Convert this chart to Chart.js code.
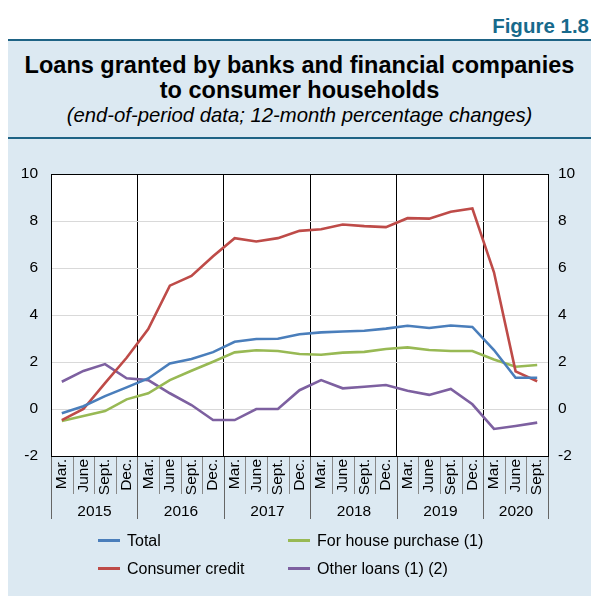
<!DOCTYPE html>
<html>
<head>
<meta charset="utf-8">
<script src="https://cdn.jsdelivr.net/npm/chart.js@4.4.1/dist/chart.umd.min.js"></script>
<style>
  html, body { margin:0; padding:0; background:#fff; }
  body { width:595px; height:596px; position:relative; overflow:hidden; font-family:"Liberation Sans", Arial, sans-serif; }
  #panel { position:absolute; left:8px; top:39px; width:583px; height:557px; background:#dce9f2; border-top:2px solid #1e6385; box-sizing:border-box; }
  #rule2 { position:absolute; left:8px; top:137px; width:583px; height:2px; background:#1e6385; }
  .txt { position:absolute; white-space:nowrap; line-height:1; }
  #fig { right:6px; top:15.6px; font-size:20.5px; font-weight:bold; color:#176a8c; }
  #title { left:8px; width:583px; top:52.7px; text-align:center; font-size:23.5px; font-weight:bold; line-height:25px; }
  #sub { left:8px; width:583px; top:104.5px; text-align:center; font-size:20.3px; font-style:italic; }
  #chart { position:absolute; left:0; top:0; }
  .leg-line { position:absolute; width:22px; height:3px; }
  .leg-txt { position:absolute; font-size:16px; line-height:1; white-space:nowrap; }
</style>
</head>
<body>
<div id="panel"></div>
<div id="rule2"></div>
<div class="txt" id="fig">Figure 1.8</div>
<div class="txt" id="title">Loans granted by banks and financial companies<br>to consumer households</div>
<div class="txt" id="sub">(end-of-period data; 12-month percentage changes)</div>
<canvas id="chart" width="595" height="596"></canvas>
<div id="legend"></div>

<script>
// quarters, 2015 Q1 .. 2020 Q3
const quarterLabels = ['Mar.','June','Sept.','Dec.', 'Mar.','June','Sept.','Dec.', 'Mar.','June','Sept.','Dec.',
                       'Mar.','June','Sept.','Dec.', 'Mar.','June','Sept.','Dec.', 'Mar.','June','Sept.'];
const yearLabels   = ['2015','2016','2017','2018','2019','2020'];
const yearQuarters = [4, 4, 4, 4, 4, 3];
const yTicks       = [-2, 0, 2, 4, 6, 8, 10];

const total          = [-0.18, 0.12, 0.55, 0.92, 1.30, 1.94, 2.13, 2.42, 2.86, 2.98, 2.99, 3.18,
                        3.26, 3.30, 3.33, 3.42, 3.54, 3.45, 3.55, 3.49, 2.51, 1.33, 1.33];
const consumerCredit = [-0.47, 0.00, 1.10, 2.18, 3.40, 5.25, 5.66, 6.50, 7.27, 7.13, 7.27, 7.58,
                        7.65, 7.85, 7.78, 7.74, 8.12, 8.10, 8.39, 8.53, 5.82, 1.60, 1.18];
const housePurchase  = [-0.51, -0.30, -0.09, 0.41, 0.67, 1.23, 1.63, 2.01, 2.41, 2.50, 2.47, 2.34,
                        2.31, 2.40, 2.43, 2.55, 2.62, 2.51, 2.47, 2.47, 2.11, 1.80, 1.87];
const otherLoans     = [1.16, 1.62, 1.91, 1.31, 1.23, 0.67, 0.17, -0.47, -0.47, 0.00, 0.00, 0.80,
                        1.23, 0.88, 0.95, 1.02, 0.78, 0.60, 0.85, 0.20, -0.85, -0.72, -0.58];

const series = [
  { name: 'Total',                 data: total,          color: '#4a7ebb' },
  { name: 'Consumer credit',       data: consumerCredit, color: '#be4b48' },
  { name: 'For house purchase (1)', data: housePurchase, color: '#98b954' },
  { name: 'Other loans (1) (2)',   data: otherLoans,     color: '#7d60a0' }
];

const FONT = '"Liberation Sans", Arial, sans-serif';

// ── plot frame, separators under the axis, year row ──────────
const framePlugin = {
  id: 'frame',
  beforeDraw(chart) {
    const a = chart.chartArea, c = chart.ctx;
    c.save();
    c.fillStyle = '#ffffff';
    c.fillRect(a.left, a.top, a.right - a.left, a.bottom - a.top);
    c.restore();
  },
  afterDraw(chart) {
    const a = chart.chartArea, c = chart.ctx, x = chart.scales.x;
    const step = x.getPixelForValue(1) - x.getPixelForValue(0);
    const edge = i => Math.round(x.getPixelForValue(i) - step / 2) + 0.5;

    const yearStarts = [0];
    yearQuarters.forEach(q => yearStarts.push(yearStarts[yearStarts.length - 1] + q));

    c.save();
    c.lineWidth = 1;
    for (let i = 0; i <= quarterLabels.length; i++) {
      const isYear = yearStarts.includes(i);
      c.strokeStyle = isYear ? '#666' : '#888';
      c.beginPath();
      c.moveTo(edge(i), a.bottom);
      c.lineTo(edge(i), a.bottom + (isYear ? 63 : 38));
      c.stroke();
    }

    c.fillStyle = '#000';
    c.font = '15.5px ' + FONT;
    c.textAlign = 'center';
    c.textBaseline = 'alphabetic';
    yearLabels.forEach((yr, k) => {
      const mid = (edge(yearStarts[k]) + edge(yearStarts[k + 1])) / 2;
      c.fillText(yr, mid, a.bottom + 60);
    });

    c.strokeStyle = '#000';
    c.strokeRect(Math.round(a.left) + 0.5, Math.round(a.top) + 0.5,
                 Math.round(a.right - a.left), Math.round(a.bottom - a.top));
    c.restore();
  }
};

const yearLineIdx = [4, 8, 12, 16, 20];

new Chart(document.getElementById('chart'), {
  type: 'line',
  data: {
    labels: quarterLabels,
    datasets: series.map(s => ({
      label: s.name, data: s.data, borderColor: s.color, backgroundColor: s.color,
      borderWidth: 2.6, pointRadius: 0, tension: 0, yAxisID: 'y'
    }))
  },
  options: {
    responsive: false,
    animation: false,
    devicePixelRatio: 1,
    layout: { padding: { top: 174, left: 0, right: 0, bottom: 0 } },
    plugins: { legend: { display: false }, tooltip: { enabled: false } },
    scales: {
      x: {
        offset: true,
        grid: {
          offset: true, drawTicks: false, lineWidth: 1,
          color: ctx => yearLineIdx.includes(ctx.index) ? '#000' : 'rgba(0,0,0,0)'
        },
        border: { display: false },
        ticks: { color: '#000', font: { family: FONT, size: 15.5 }, minRotation: 90, maxRotation: 90, padding: 3, autoSkip: false },
        afterFit: s => { s.height = 140; }
      },
      y: {
        position: 'left', min: -2, max: 10,
        afterBuildTicks: s => { s.ticks = yTicks.map(v => ({ value: v })); },
        grid: { drawTicks: false, color: ctx => (ctx.tick && (ctx.tick.value === 10 || ctx.tick.value === -2)) ? 'rgba(0,0,0,0)' : '#d9d9d9' },
        border: { display: false },
        ticks: { color: '#000', font: { family: FONT, size: 15.5 }, padding: 13 },
        afterFit: s => { s.width = 51; }
      },
      y2: {
        position: 'right', min: -2, max: 10,
        afterBuildTicks: s => { s.ticks = yTicks.map(v => ({ value: v })); },
        grid: { display: false, drawTicks: false },
        border: { display: false },
        ticks: { color: '#000', font: { family: FONT, size: 15.5 }, padding: 10 },
        afterFit: s => { s.width = 47; }
      }
    }
  },
  plugins: [framePlugin]
});

// legend, two columns
const legendPos = [[98, 546], [98, 574], [288, 546], [288, 574]];
const legendOrder = [0, 1, 2, 3];
document.getElementById('legend').innerHTML = legendOrder.map((k, j) => {
  const s = series[k], [lx, base] = legendPos[j];
  return `<div class="leg-line" style="left:${lx}px;top:${base - 7}px;background:${s.color}"></div>
          <div class="leg-txt" style="left:${lx + 29}px;top:${base - 13.5}px">${s.name}</div>`;
}).join('');
</script>
</body>
</html>
